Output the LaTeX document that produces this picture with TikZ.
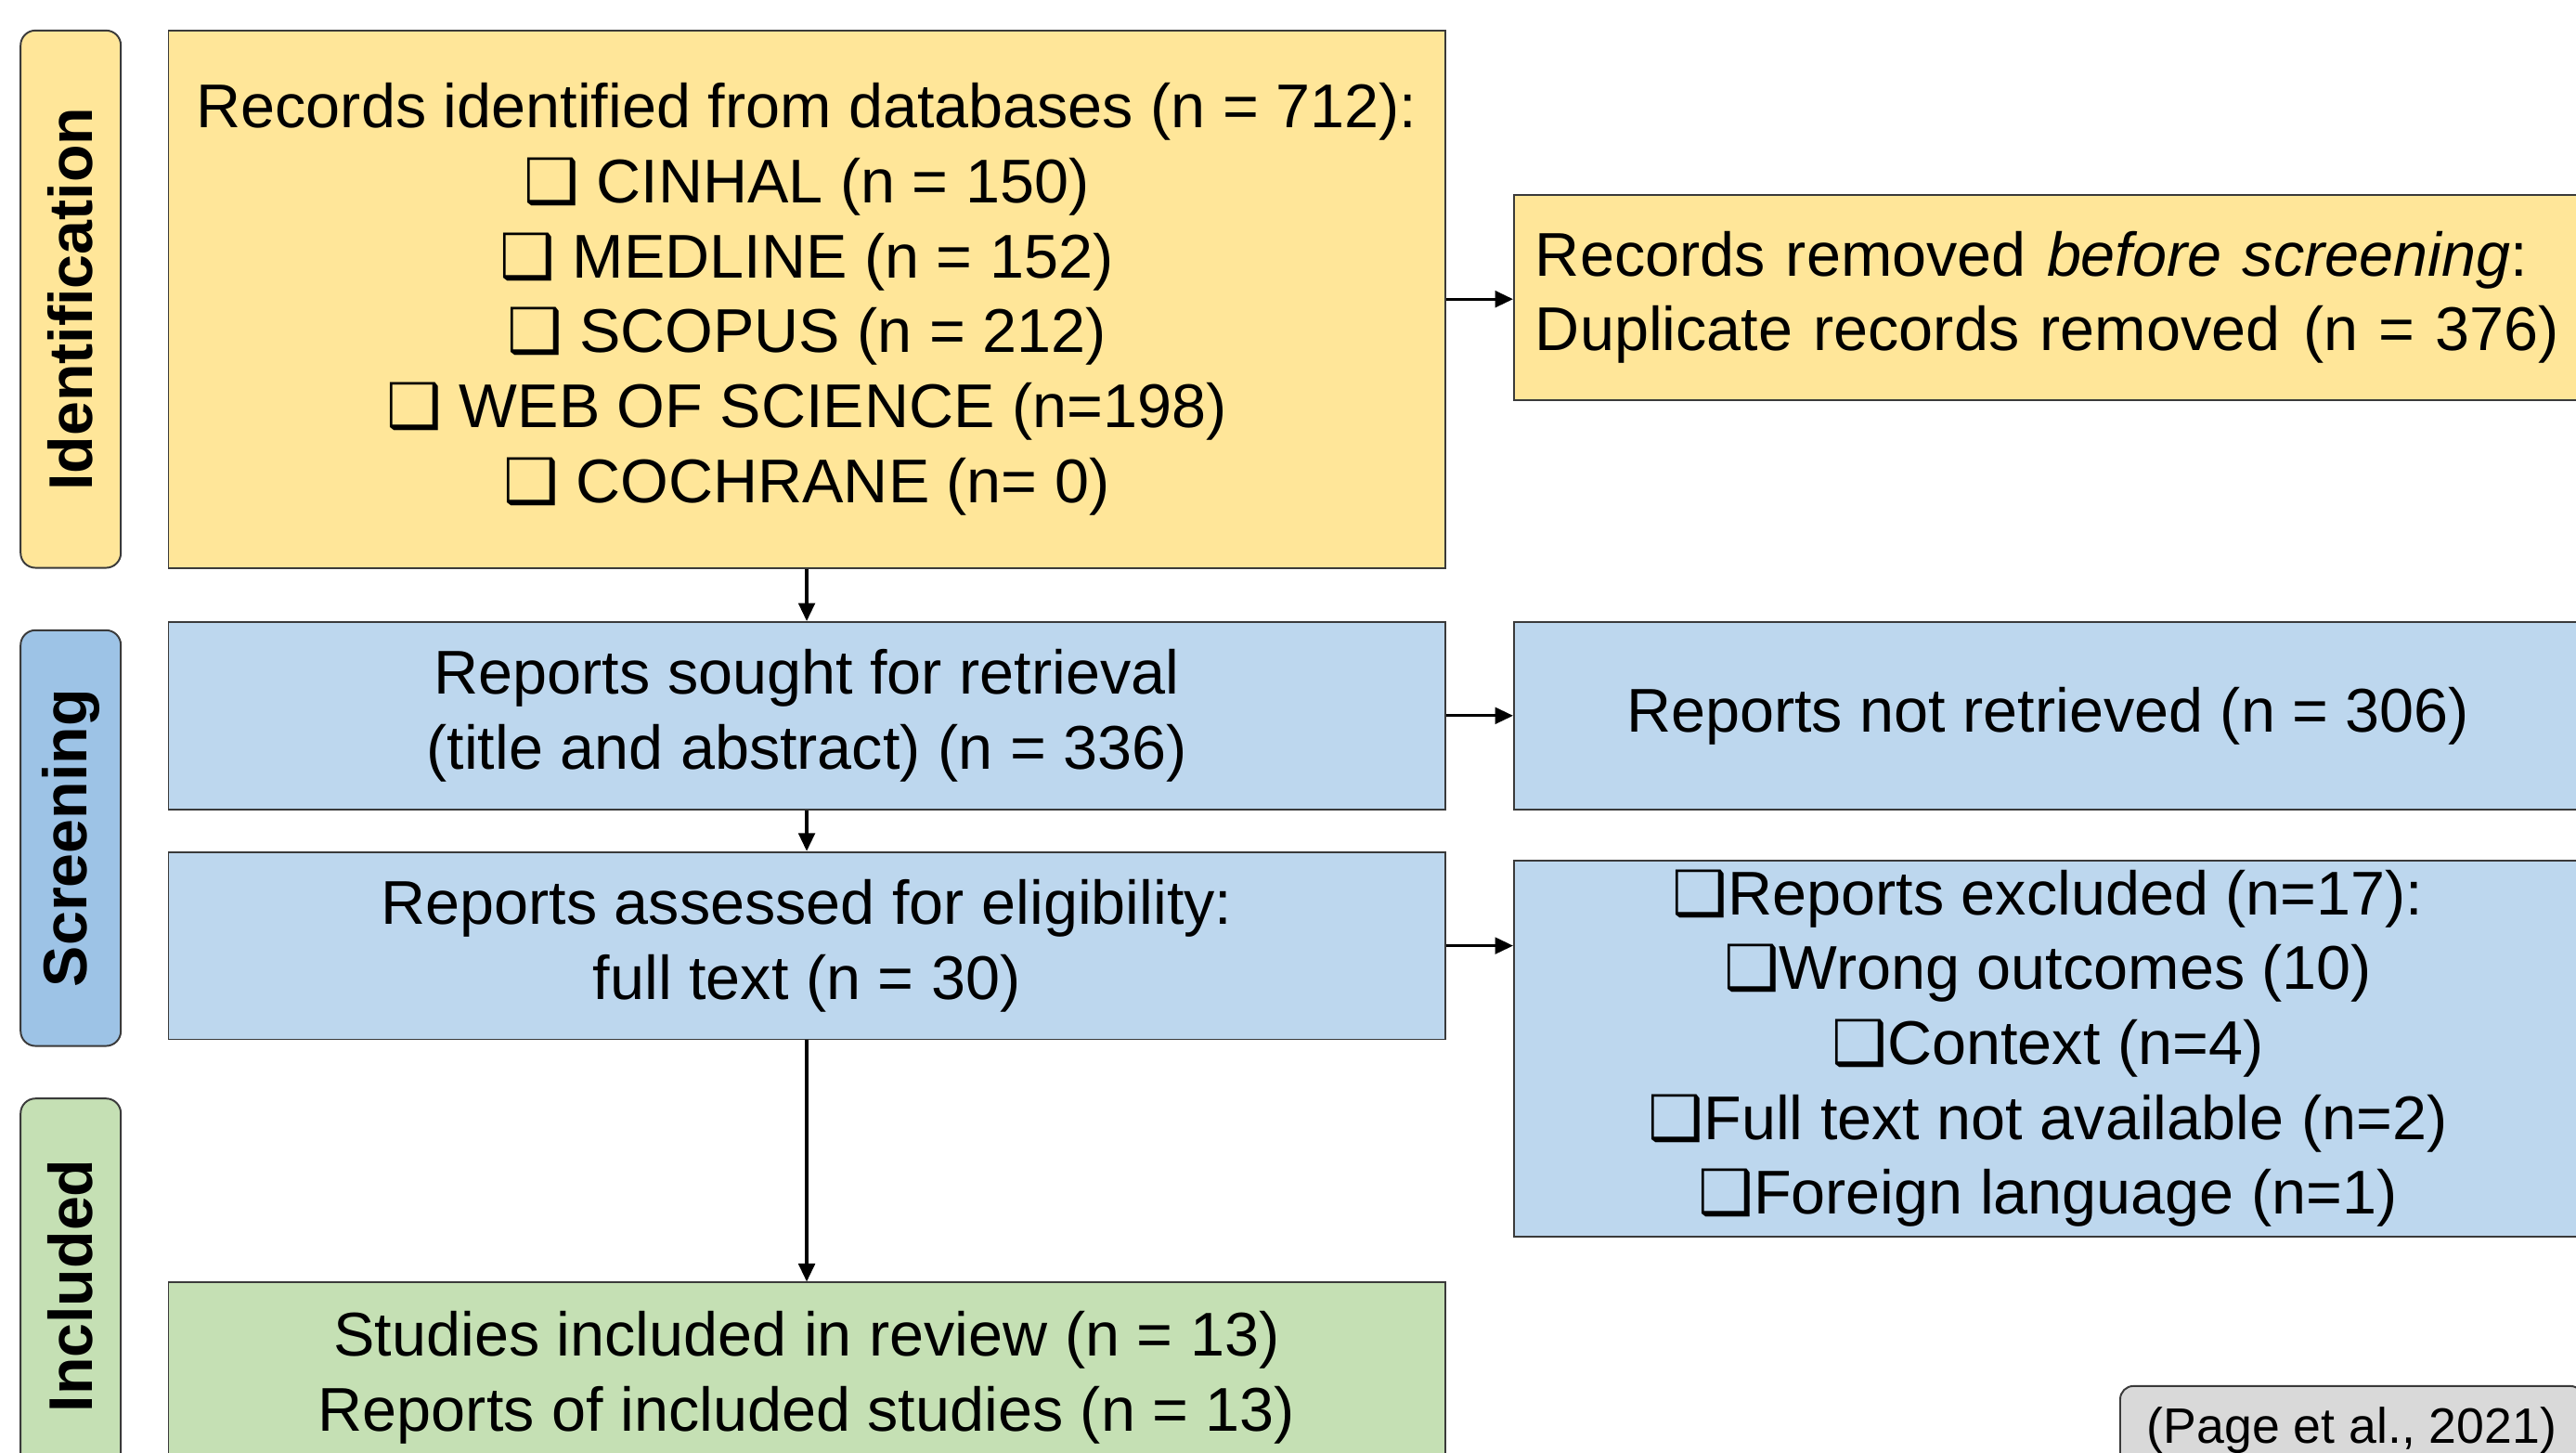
\documentclass[tikz,border=0pt]{standalone}
\usepackage{fontspec}
\usepackage{graphicx}
\setmainfont{Liberation Sans}
\newfontfamily\symfont{DejaVu Sans}
\usetikzlibrary{arrows.meta}
\definecolor{idfill}{HTML}{FFE699}
\definecolor{scrfill}{HTML}{BDD7EE}
\definecolor{scrlab}{HTML}{9DC3E6}
\definecolor{incfill}{HTML}{C5E0B4}
\definecolor{citefill}{HTML}{D9D9D9}
\definecolor{edgegray}{HTML}{3A3A3A}
% checkbox bullet
\newcommand{\chk}{{\symfont ❑}}

\begin{document}
\begin{tikzpicture}[x=1pt,y=-1pt,
  box/.style={draw=edgegray, line width=1.1pt, rectangle, anchor=north west,
    inner sep=0pt, align=center, font=\fontsize{37.6pt}{45.6pt}\selectfont},
  phase/.style={draw=edgegray, line width=1.1pt, rounded corners=9pt,
    anchor=north west, minimum width=61pt, inner sep=0pt,
    font=\fontsize{37.5pt}{45pt}\selectfont\bfseries},
  flow/.style={line width=1.8pt, -{Triangle[length=11pt,width=10pt]}}
]
\useasboundingbox (0,0) rectangle (1568,884);

% phase labels
\node[phase, fill=idfill, minimum height=327pt] (idlab) at (12,18)
  {\rotatebox{90}{Identification}};
\node[phase, fill=scrlab, minimum height=253pt] (scrlabnode) at (12,383)
  {\rotatebox{90}{Screening}};
\node[phase, fill=incfill, minimum height=228pt] (inclab) at (12,668)
  {\rotatebox{90}{Included}};

% main flow
\node[box, fill=idfill, minimum width=777pt, minimum height=327pt] (ident) at (102,18)
  {Records identified from databases (n = 712):\\
   \chk\ CINHAL (n = 150)\\
   \chk\ MEDLINE (n = 152)\\
   \chk\ SCOPUS (n = 212)\\
   \chk\ WEB OF SCIENCE (n=198)\\
   \chk\ COCHRANE (n= 0)};
\node[box, fill=scrfill, minimum width=777pt, minimum height=114pt] (sought) at (102,378)
  {Reports sought for retrieval\\(title and abstract) (n = 336)};
\node[box, fill=scrfill, minimum width=777pt, minimum height=114pt] (assessed) at (102,518)
  {Reports assessed for eligibility:\\full text (n = 30)};
\node[box, fill=incfill, minimum width=777pt, minimum height=116pt] (included) at (102,780)
  {Studies included in review (n = 13)\\Reports of included studies (n = 13)};

% side boxes
\node[box, fill=idfill, text width=680pt, inner xsep=13pt, align=left,
  minimum height=125pt] (removed) at (921,118)
  {Records removed \textit{before screening}:\\
   Duplicate records removed\hspace{14pt}(n = 376)};
\node[box, fill=scrfill, minimum width=650pt, minimum height=114pt] (notret) at (921,378)
  {Reports not retrieved (n = 306)};
\node[box, fill=scrfill, minimum width=650pt, minimum height=229pt] (excluded) at (921,523)
  {\chk Reports excluded (n=17):\\
   \chk Wrong outcomes (10)\\
   \chk Context (n=4)\\
   \chk Full text not available (n=2)\\
   \chk Foreign language (n=1)};

% citation
\node[draw=edgegray, line width=1.1pt, fill=citefill, rounded corners=8pt,
  anchor=north west, minimum width=282pt, minimum height=54pt, inner sep=0pt,
  font=\fontsize{30.3pt}{36pt}\selectfont] (cite) at (1290,843)
  {(Page et al., 2021)};

% connectors
\draw[flow] (ident.south) -- (sought.north);
\draw[flow] (sought.south) -- (assessed.north);
\draw[flow] (assessed.south) -- (included.north);
\draw[flow] (ident.east) -- (ident.east -| removed.west);
\draw[flow] (sought.east) -- (sought.east -| notret.west);
\draw[flow] (assessed.east) -- (assessed.east -| excluded.west);
\end{tikzpicture}
\end{document}
